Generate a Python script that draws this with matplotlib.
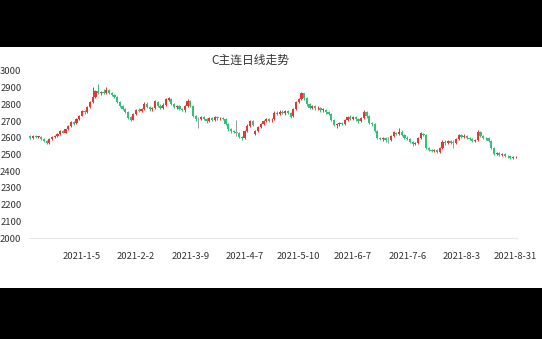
import matplotlib
matplotlib.use("Agg")
import numpy as np
import matplotlib.pyplot as plt
from matplotlib.patches import Rectangle

plt.rcParams['font.family'] = ['Noto Sans CJK SC', 'DejaVu Sans']

# 日K数据 (开, 收, 高, 低)
opens = [
    2612, 2598, 2610, 2604, 2606, 2592, 2580, 2568, 2592, 2602,
    2608, 2622, 2640, 2630, 2650, 2668, 2692, 2686, 2710, 2732,
    2758, 2754, 2786, 2812, 2842, 2880, 2866, 2874, 2866, 2884,
    2870, 2858, 2842, 2812, 2790, 2772, 2756, 2722, 2708, 2740,
    2766, 2760, 2770, 2804, 2782, 2770, 2776, 2816, 2790, 2778,
    2798, 2826, 2834, 2800, 2782, 2790, 2772, 2764, 2788, 2822,
    2790, 2730, 2712, 2710, 2724, 2712, 2700, 2716, 2706, 2722,
    2716, 2718, 2712, 2680, 2650, 2640, 2630, 2626, 2604, 2598,
    2640, 2670, 2700, 2620, 2640, 2664, 2682, 2698, 2712, 2704,
    2712, 2750, 2740, 2756, 2746, 2758, 2748, 2728, 2770, 2812,
    2830, 2866, 2836, 2800, 2778, 2790, 2776, 2780, 2766, 2768,
    2752, 2742, 2706, 2676, 2680, 2686, 2680, 2706, 2726, 2714,
    2724, 2710, 2698, 2720, 2756, 2728, 2690, 2680, 2640, 2600,
    2590, 2596, 2584, 2584, 2612, 2630, 2624, 2636, 2618, 2600,
    2592, 2576, 2560, 2566, 2596, 2624, 2616, 2540, 2526, 2520,
    2524, 2516, 2540, 2574, 2566, 2578, 2570, 2570, 2592, 2614,
    2606, 2612, 2598, 2592, 2580, 2586, 2636, 2610, 2600, 2596,
    2580, 2540, 2504, 2508, 2500, 2504, 2494, 2490, 2480, 2484,
]
closes = [
    2596, 2610, 2604, 2608, 2592, 2578, 2566, 2592, 2604, 2610,
    2622, 2640, 2630, 2650, 2668, 2692, 2684, 2710, 2732, 2760,
    2752, 2786, 2812, 2842, 2880, 2868, 2874, 2866, 2884, 2870,
    2858, 2842, 2812, 2790, 2772, 2756, 2720, 2708, 2740, 2766,
    2760, 2772, 2804, 2782, 2770, 2776, 2818, 2790, 2778, 2798,
    2830, 2836, 2800, 2782, 2790, 2772, 2764, 2788, 2822, 2790,
    2730, 2712, 2712, 2724, 2712, 2698, 2716, 2706, 2724, 2716,
    2718, 2710, 2680, 2650, 2638, 2632, 2630, 2604, 2596, 2640,
    2672, 2700, 2676, 2640, 2664, 2682, 2700, 2714, 2702, 2708,
    2750, 2742, 2756, 2746, 2760, 2748, 2726, 2770, 2814, 2830,
    2866, 2836, 2800, 2778, 2790, 2776, 2780, 2766, 2770, 2752,
    2742, 2706, 2676, 2680, 2686, 2680, 2706, 2726, 2714, 2726,
    2710, 2698, 2720, 2756, 2728, 2690, 2680, 2640, 2600, 2590,
    2596, 2584, 2584, 2612, 2632, 2624, 2636, 2618, 2600, 2592,
    2576, 2560, 2566, 2596, 2626, 2616, 2540, 2526, 2520, 2524,
    2516, 2540, 2576, 2566, 2578, 2570, 2570, 2592, 2614, 2606,
    2612, 2598, 2592, 2580, 2586, 2636, 2610, 2600, 2596, 2580,
    2540, 2504, 2508, 2500, 2504, 2494, 2490, 2480, 2486, 2488,
]
highs = [
    2618, 2614, 2614, 2612, 2610, 2596, 2584, 2596, 2608, 2614,
    2626, 2644, 2646, 2654, 2674, 2698, 2700, 2716, 2738, 2764,
    2766, 2790, 2818, 2905, 2888, 2925, 2882, 2890, 2906, 2890,
    2876, 2864, 2848, 2818, 2796, 2780, 2762, 2730, 2746, 2772,
    2776, 2780, 2812, 2816, 2790, 2784, 2826, 2822, 2800, 2806,
    2838, 2842, 2840, 2806, 2798, 2796, 2780, 2796, 2830, 2826,
    2796, 2736, 2722, 2732, 2730, 2718, 2722, 2724, 2730, 2728,
    2726, 2724, 2718, 2686, 2660, 2648, 2706, 2632, 2612, 2646,
    2680, 2706, 2706, 2646, 2670, 2690, 2708, 2720, 2718, 2720,
    2758, 2760, 2764, 2764, 2768, 2764, 2754, 2776, 2820, 2836,
    2874, 2870, 2842, 2808, 2798, 2796, 2790, 2786, 2778, 2774,
    2760, 2746, 2712, 2688, 2694, 2692, 2714, 2732, 2734, 2732,
    2730, 2716, 2726, 2764, 2762, 2734, 2696, 2686, 2646, 2606,
    2604, 2602, 2604, 2618, 2640, 2636, 2660, 2644, 2624, 2608,
    2598, 2582, 2574, 2604, 2634, 2630, 2620, 2546, 2532, 2530,
    2532, 2546, 2584, 2584, 2586, 2584, 2586, 2598, 2620, 2622,
    2620, 2618, 2606, 2598, 2594, 2644, 2640, 2616, 2606, 2602,
    2586, 2546, 2514, 2514, 2510, 2508, 2498, 2494, 2490, 2492,
]
lows = [
    2590, 2594, 2600, 2598, 2586, 2572, 2560, 2564, 2588, 2598,
    2604, 2618, 2626, 2626, 2646, 2664, 2678, 2682, 2704, 2728,
    2744, 2750, 2780, 2808, 2836, 2862, 2858, 2860, 2860, 2864,
    2850, 2836, 2806, 2782, 2764, 2750, 2712, 2700, 2704, 2734,
    2754, 2754, 2764, 2776, 2762, 2762, 2770, 2784, 2770, 2772,
    2792, 2818, 2794, 2776, 2774, 2766, 2758, 2756, 2782, 2784,
    2722, 2702, 2660, 2704, 2704, 2690, 2694, 2700, 2700, 2708,
    2708, 2704, 2674, 2642, 2630, 2626, 2610, 2598, 2588, 2594,
    2636, 2664, 2670, 2614, 2634, 2656, 2676, 2692, 2694, 2696,
    2706, 2734, 2734, 2740, 2738, 2740, 2718, 2722, 2764, 2806,
    2824, 2828, 2792, 2770, 2770, 2766, 2766, 2756, 2756, 2744,
    2736, 2700, 2668, 2660, 2670, 2674, 2674, 2700, 2706, 2708,
    2702, 2690, 2692, 2714, 2720, 2684, 2672, 2632, 2592, 2584,
    2582, 2576, 2568, 2578, 2606, 2616, 2618, 2612, 2594, 2584,
    2570, 2552, 2554, 2560, 2590, 2608, 2532, 2518, 2512, 2512,
    2510, 2510, 2534, 2558, 2560, 2564, 2540, 2564, 2586, 2600,
    2600, 2592, 2586, 2574, 2572, 2580, 2604, 2594, 2588, 2574,
    2532, 2496, 2496, 2492, 2494, 2488, 2482, 2476, 2476, 2478,
]
tick_pos = [19, 39, 59, 79, 99, 119, 139, 159, 179]
tick_labels = ["2021-1-5", "2021-2-2", "2021-3-9", "2021-4-7", "2021-5-10",
               "2021-6-7", "2021-7-6", "2021-8-3", "2021-8-31"]
y_ticks = list(range(2000, 3001, 100))

# 画布: 白底, 上下黑边
fig = plt.figure(figsize=(5.42, 3.39), dpi=100, facecolor="white")
fig.add_artist(Rectangle((0, 0), 1, 51 / 339, transform=fig.transFigure,
                         facecolor="black", edgecolor="none", zorder=0))
fig.add_artist(Rectangle((0, 1 - 47 / 339), 1, 47 / 339, transform=fig.transFigure,
                         facecolor="black", edgecolor="none", zorder=0))

ax = fig.add_axes([29 / 542, 101 / 339, 488 / 542, 167 / 339])
ax.patch.set_alpha(0)

o = np.array(opens)
c = np.array(closes)
h = np.array(highs)
l = np.array(lows)
x = np.arange(len(o))

up_color = "#eb3333"
down_color = "#35c07a"
doji_color = "#9a9a9a"
colors = np.where(c > o, up_color, np.where(c < o, down_color, doji_color))

ax.vlines(x, l, h, colors=colors, linewidth=0.7)
body = np.maximum(np.abs(c - o), 3)
ax.bar(x, body, bottom=np.minimum(o, c), width=0.82, color=colors, linewidth=0)

ax.set_xlim(-0.5, len(o) - 0.5)
ax.set_ylim(2000, 3000)
ax.set_yticks(y_ticks)
ax.set_xticks(tick_pos)
ax.set_xticklabels(tick_labels)
ax.tick_params(axis="y", length=0, pad=5.5, labelsize=6.8, colors="#333333")
ax.tick_params(axis="x", length=0, pad=10, labelsize=6.8, colors="#333333")
for s in ["top", "right", "left"]:
    ax.spines[s].set_visible(False)
ax.spines["bottom"].set_color("#e6e6e6")
ax.spines["bottom"].set_linewidth(0.8)

fig.text(250 / 542, 1 - 60 / 339, "C主连日线走势", ha="center", va="center",
         fontsize=8.5, color="#333333")

fig.savefig("out.png", dpi=100)
